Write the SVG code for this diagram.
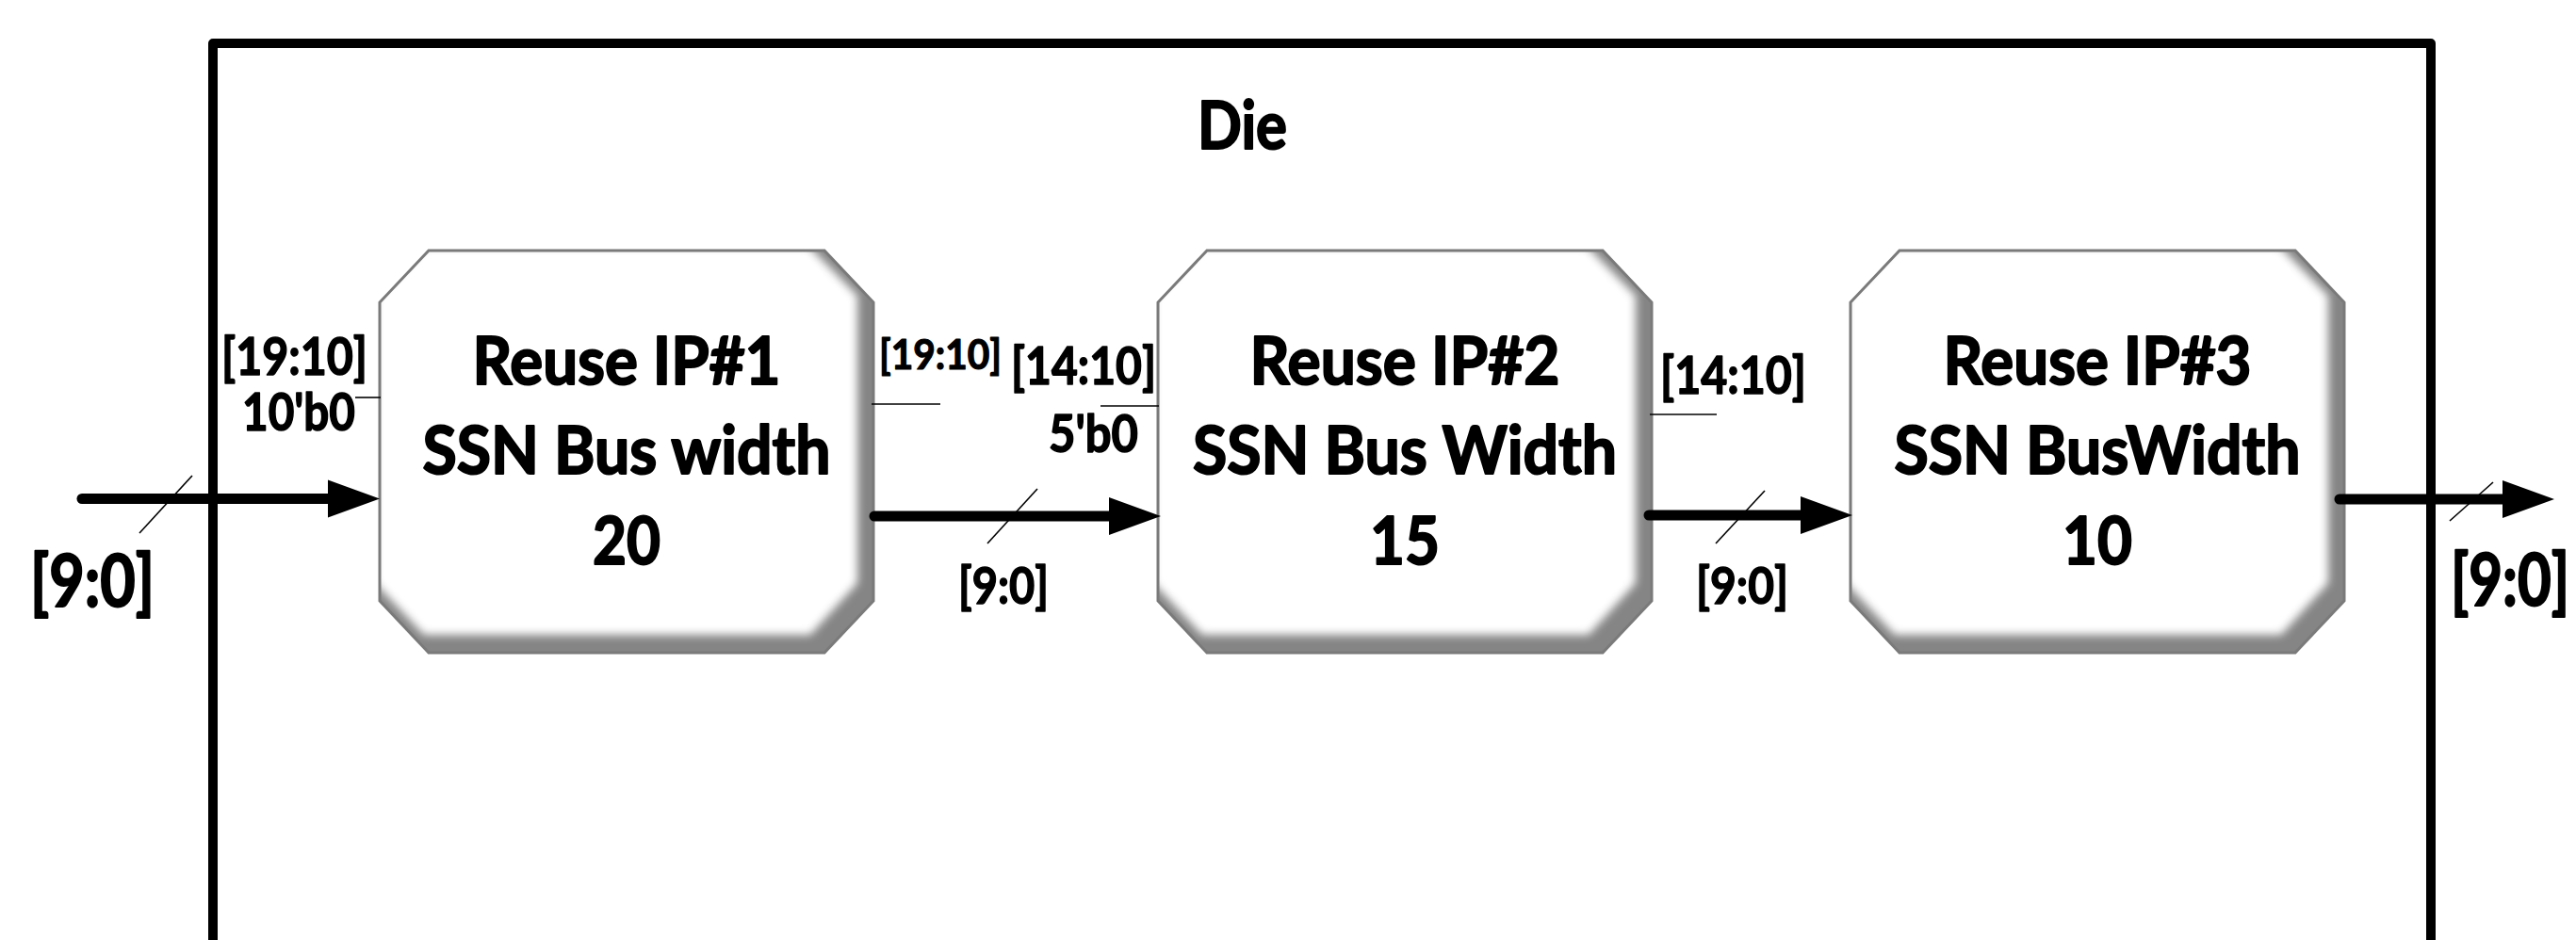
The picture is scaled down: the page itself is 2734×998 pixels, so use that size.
<svg xmlns="http://www.w3.org/2000/svg" xmlns:xlink="http://www.w3.org/1999/xlink" width="2734" height="998" viewBox="0 0 2734 998">
  <style>
    .lbl { font-family: Lato, "Liberation Sans", "DejaVu Sans", sans-serif; font-weight: bold; fill: #000; stroke: #000; stroke-linejoin: round; text-anchor: middle; }
    .ip { font-size: 70px; stroke-width: 2; }
    .big { font-size: 76px; stroke-width: 2; }
    .mid { font-size: 55px; stroke-width: 1.5; }
    .sm { font-size: 53px; stroke-width: 1.4; }
    .xs { font-size: 44px; stroke-width: 1.2; }
    .bus { fill: none; stroke: #000; stroke-width: 11; stroke-linecap: round; marker-end: url(#head); }
    .thin { fill: none; stroke: #000; stroke-width: 1.6; }
    .bevel-base { fill: #858585; }
    .outline { fill: none; stroke: #7a7a7a; stroke-width: 3; }
  </style>
  <defs>
    <!-- chamfered block outline, 524 x 427 -->
    <path id="oct" d="M52,0 H472 L524,55 V372 L472,427 H52 L0,372 V55 Z"/>
    <!-- lit face of the bevel, pushed toward the top-left -->
    <path id="octFace" d="M47,-5 H455 L507,48 V353 L457,408 H47 L-5,353 V50 Z"/>
    <clipPath id="octClip"><use xlink:href="#oct"/></clipPath>
    <filter id="bevelBlur" x="-10%" y="-10%" width="120%" height="120%">
      <feGaussianBlur stdDeviation="5"/>
    </filter>
    <marker id="head" markerUnits="userSpaceOnUse" viewBox="0 0 55 40" markerWidth="55" markerHeight="40" refX="2" refY="20" orient="auto" overflow="visible">
      <path d="M0,0 L55,20 L0,40 Z" fill="#000"/>
    </marker>
  </defs>

  <rect width="2734" height="998" fill="#fff"/>

  <!-- die boundary -->
  <g id="die">
    <path d="M226,1010 V46 H2580 V1010" fill="none" stroke="#000" stroke-width="10" stroke-linejoin="round"/>
    <text class="lbl ip" x="1318.5" y="158" font-size="72" textLength="95" lengthAdjust="spacingAndGlyphs">Die</text>
  </g>

  <!-- reuse IP blocks -->
  <g id="ip1" transform="translate(403,266)">
    <use xlink:href="#oct" class="bevel-base"/>
    <g clip-path="url(#octClip)"><use xlink:href="#octFace" fill="#fff" filter="url(#bevelBlur)"/></g>
    <use xlink:href="#oct" class="outline"/>
    <text class="lbl ip" x="262" y="142" textLength="327" lengthAdjust="spacingAndGlyphs">Reuse IP#1</text>
    <text class="lbl ip" x="262" y="237" textLength="433" lengthAdjust="spacingAndGlyphs">SSN Bus width</text>
    <text class="lbl ip" x="262" y="333" textLength="72" lengthAdjust="spacingAndGlyphs">20</text>
  </g>

  <g id="ip2" transform="translate(1229,266)">
    <use xlink:href="#oct" class="bevel-base"/>
    <g clip-path="url(#octClip)"><use xlink:href="#octFace" fill="#fff" filter="url(#bevelBlur)"/></g>
    <use xlink:href="#oct" class="outline"/>
    <text class="lbl ip" x="262" y="142" textLength="329" lengthAdjust="spacingAndGlyphs">Reuse IP#2</text>
    <text class="lbl ip" x="262" y="237" textLength="450" lengthAdjust="spacingAndGlyphs">SSN Bus Width</text>
    <text class="lbl ip" x="262" y="333" textLength="74" lengthAdjust="spacingAndGlyphs">15</text>
  </g>

  <g id="ip3" transform="translate(1964,266)">
    <use xlink:href="#oct" class="bevel-base"/>
    <g clip-path="url(#octClip)"><use xlink:href="#octFace" fill="#fff" filter="url(#bevelBlur)"/></g>
    <use xlink:href="#oct" class="outline"/>
    <text class="lbl ip" x="262" y="142" textLength="327" lengthAdjust="spacingAndGlyphs">Reuse IP#3</text>
    <text class="lbl ip" x="262" y="237" textLength="431" lengthAdjust="spacingAndGlyphs">SSN BusWidth</text>
    <text class="lbl ip" x="262" y="333" textLength="74" lengthAdjust="spacingAndGlyphs">10</text>
  </g>

  <!-- buses, width slashes and tie-off stubs -->
  <g id="connectors">
    <path class="bus" d="M87,529.5 H350"/>
    <path class="bus" d="M928,548 H1179"/>
    <path class="bus" d="M1750,547 H1913"/>
    <path class="bus" d="M2483,530 H2658"/>

    <line class="thin" x1="148" y1="566" x2="204" y2="505"/>
    <line class="thin" x1="1048" y1="577" x2="1101" y2="519"/>
    <line class="thin" x1="1821" y1="577" x2="1873" y2="521"/>
    <line class="thin" x1="2600" y1="553" x2="2646" y2="512"/>

    <line class="thin" x1="377" y1="422" x2="404" y2="422"/>
    <line class="thin" x1="925" y1="429" x2="998" y2="429"/>
    <line class="thin" x1="1168" y1="431" x2="1230" y2="431"/>
    <line class="thin" x1="1751" y1="440" x2="1822" y2="440"/>
  </g>

  <!-- bus range labels -->
  <g id="labels">
    <text class="lbl big" x="98" y="644" textLength="132" lengthAdjust="spacingAndGlyphs">[9:0]</text>
    <text class="lbl big" transform="translate(2664,643) scale(0.8,1)" x="0" y="0" textLength="157.5" lengthAdjust="spacingAndGlyphs">[9:0]</text>
    <text class="lbl mid" x="312.5" y="398" textLength="155" lengthAdjust="spacingAndGlyphs">[19:10]</text>
    <text class="lbl mid" x="317" y="457" textLength="120" lengthAdjust="spacingAndGlyphs">10'b0</text>
    <text class="lbl xs" x="998" y="392" textLength="130" lengthAdjust="spacingAndGlyphs">[19:10]</text>
    <text class="lbl mid" x="1150" y="408" textLength="154" lengthAdjust="spacingAndGlyphs">[14:10]</text>
    <text class="lbl mid" x="1160.5" y="480" textLength="95" lengthAdjust="spacingAndGlyphs">5'b0</text>
    <text class="lbl sm" x="1065" y="641" textLength="96" lengthAdjust="spacingAndGlyphs">[9:0]</text>
    <text class="lbl sm" x="1849" y="641" textLength="98" lengthAdjust="spacingAndGlyphs">[9:0]</text>
    <text class="lbl mid" x="1839.5" y="418" textLength="155" lengthAdjust="spacingAndGlyphs">[14:10]</text>
  </g>
</svg>
